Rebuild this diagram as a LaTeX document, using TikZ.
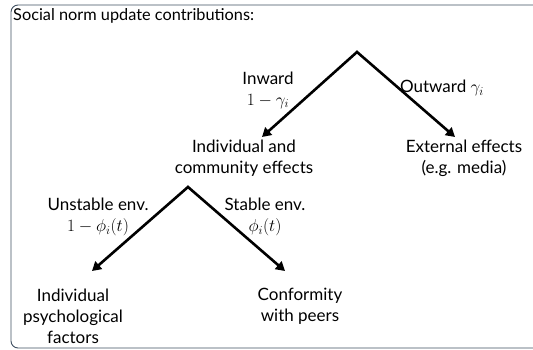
\documentclass[tikz,border=0pt]{standalone}
\usepackage{fontspec}
\setmainfont{Lato}
\usepackage{amsmath}
\usetikzlibrary{positioning,arrows.meta}

\definecolor{framecol}{HTML}{3E4E60}

\begin{document}
\begin{tikzpicture}
                [x=1pt,y=-1pt,
                t/.style={align=center,inner sep=0pt,font=\fontsize{17}{21}\selectfont},
                arr/.style={line width=2.6pt,-{Triangle[length=9pt,width=10pt]}}]
                \useasboundingbox (0,0) rectangle (533,349);
                \begin{scope}
                \clip (0,0) rectangle (533,349);
                \draw[framecol,line width=0.9pt,rounded corners=7pt] (11,5) rectangle (560,348);
                \end{scope}
                \node[anchor=west,inner sep=0pt,font=\fontsize{16.3}{20}\selectfont] (title) at (13,16) {Social norm update contributions:};
                % top split
                \coordinate (top) at (357,52);
                \coordinate (inend) at (262,137);
                \coordinate (outend) at (455,137);
                \node[t] (inw) at (268,90) {Inward\\$1-\gamma_i$};
                \node[t] (outw) at (442,88) {Outward $\gamma_i$};
                \node[t] (inner) at (244,158) {Individual and\\community effects};
                \node[t] (ext) at (464,158) {External effects\\(e.g. media)};
                % lower split
                \coordinate (mid) at (188,187);
                \coordinate (unend) at (92,271);
                \coordinate (stend) at (285,271);
                \node[t] (unst) at (98,217) {Unstable env.\\$1-\phi_i(t)$};
                \node[t] (stab) at (265,217) {Stable env.\\$\phi_i(t)$};
                \node[t] (psych) at (73,316) {Individual\\psychological\\factors};
                \node[t] (peers) at (300,306) {Conformity\\with peers};
                \path (top) edge[arr,shorten <=-1pt] (inend)
                            edge[arr,shorten <=-1pt] (outend)
                      (mid) edge[arr,shorten <=-1pt] (unend)
                            edge[arr,shorten <=-1pt] (stend);
            \end{tikzpicture}
\end{document}
